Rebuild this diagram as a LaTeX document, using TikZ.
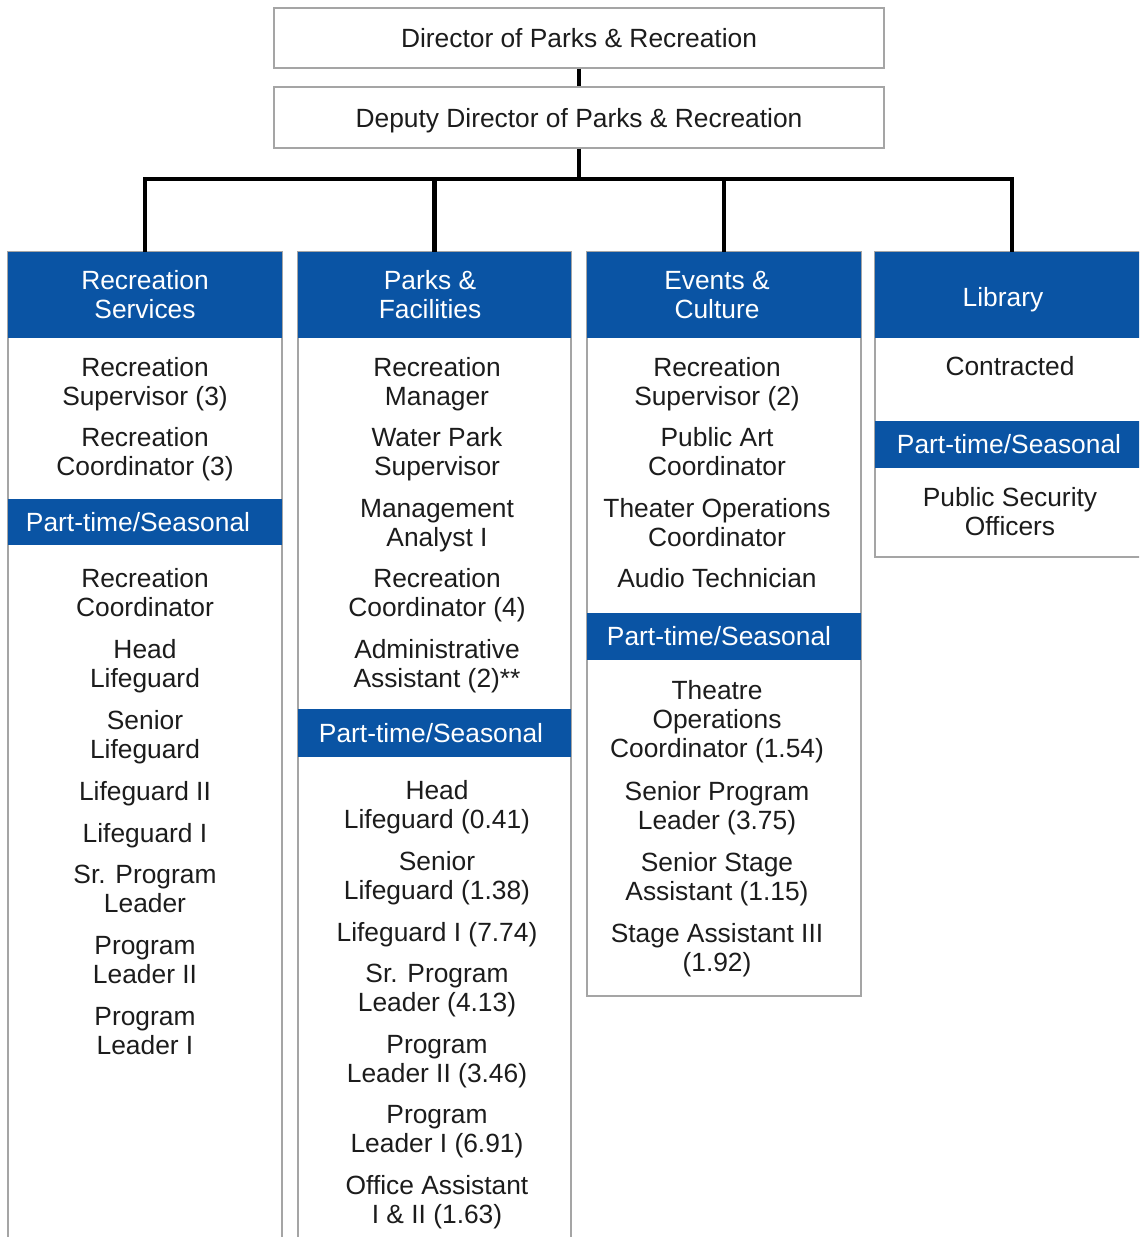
\documentclass[tikz,border=0pt]{standalone}
\usepackage{fontspec}
\setmainfont{Liberation Sans}
\definecolor{hdrblue}{RGB}{10,84,164}
\definecolor{framegray}{RGB}{165,165,165}
\definecolor{ink}{RGB}{28,28,28}

\begin{document}
\begin{tikzpicture}[x=0.02cm,y=-0.02cm,
  every node/.style={font=\fontsize{15}{16.5}\selectfont, text=ink},
  topbox/.style={draw=framegray, line width=0.8pt, fill=white, minimum width=12.2cm, inner sep=0, text depth=0pt},
  head/.style={fill=hdrblue, minimum width=5.48cm, minimum height=1.72cm, inner sep=0},
  headtext/.style={text=white, align=center, inner sep=0},
  ptbar/.style={fill=hdrblue, minimum width=5.48cm, inner sep=0},
  item/.style={align=center, inner sep=0, anchor=base},
  conn/.style={draw=black, line width=2.3pt},
  colframe/.style={draw=framegray, line width=0.8pt, fill=white}
]
\useasboundingbox (0,0) rectangle (1139,1237);
\clip (0,0) rectangle (1139,1237);
\fill[white] (0,0) rectangle (1139,1237);

% top of the hierarchy
\node[topbox, minimum height=1.2cm] (dir) at (579,38) {Director of Parks \& Recreation};
\node[topbox, minimum height=1.22cm] (dep) at (579,117.5) {Deputy Director of Parks \& Recreation};

% column outlines
\draw[colframe] (8,252) rectangle (282,1260);
\draw[colframe] (298,252) rectangle (571,1260);
\draw[colframe] (587,252) rectangle (861,996);
\draw[colframe] (875,252) rectangle (1150,557);

% division headers
\node[head, label={[headtext]center:{Recreation\\Services}}] (h1) at (145,295) {};
\node[head, label={[headtext, xshift=-0.09cm]center:{Parks \&\\Facilities}}] (h2) at (434.5,295) {};
\node[head, label={[headtext, xshift=-0.14cm]center:{Events \&\\Culture}}] (h3) at (724,295) {};
\node[head, label={[headtext, xshift=-0.18cm, yshift=-0.04cm, text depth=0pt]center:{Library}}] (h4) at (1012,295) {};

% part-time / seasonal bars
\node[ptbar, minimum height=0.92cm, label={[headtext, xshift=-0.14cm]center:{Part-time/Seasonal}}] (p1) at (145,522) {};
\node[ptbar, minimum height=0.96cm, label={[headtext, xshift=-0.07cm]center:{Part-time/Seasonal}}] (p2) at (434.5,733) {};
\node[ptbar, minimum height=0.94cm, label={[headtext, xshift=-0.1cm]center:{Part-time/Seasonal}}] (p3) at (724,636.5) {};
\node[ptbar, minimum height=0.94cm, label={[headtext, xshift=-0.06cm]center:{Part-time/Seasonal}}] (p4) at (1012,444.5) {};

% connectors
\coordinate (bus) at (579,179);
\draw[conn] (dir) -- (dep);
\draw[conn] (dep.south) -- (bus);
\draw[conn] (h1.north) |- (bus) -| (h4.north);
\draw[conn] (h2.north) -- (h2.north |- bus);
\draw[conn] (h3.north) -- (h3.north |- bus);

% items sit on the baseline of their last line
% Recreation Services
\node[item] (a1) at (145,405.5) {Recreation\\Supervisor (3)};
\node[item] (a2) at (145,475.5) {Recreation\\Coordinator (3)};
\node[item] (a3) at (145,616.5) {Recreation\\Coordinator};
\node[item] (a4) at (145,687.5) {Head\\Lifeguard};
\node[item] (a5) at (145,758.5) {Senior\\Lifeguard};
\node[item] (a6) at (145,800.5) {Lifeguard II};
\node[item] (a7) at (145,842.5) {Lifeguard I};
\node[item] (a8) at (145,912.5) {Sr. Program\\Leader};
\node[item] (a9) at (145,983.5) {Program\\Leader II};
\node[item] (a10) at (145,1054.5) {Program\\Leader I};

% Parks & Facilities
\node[item] (b1) at (437,405.5) {Recreation\\Manager};
\node[item] (b2) at (437,475.5) {Water Park\\Supervisor};
\node[item] (b3) at (437,546.5) {Management\\Analyst I};
\node[item] (b4) at (437,616.5) {Recreation\\Coordinator (4)};
\node[item] (b5) at (437,687.5) {Administrative\\Assistant (2)**};
\node[item] (b6) at (437,828.5) {Head\\Lifeguard (0.41)};
\node[item] (b7) at (437,899.5) {Senior\\Lifeguard (1.38)};
\node[item] (b8) at (437,941.5) {Lifeguard I (7.74)};
\node[item] (b9) at (437,1011.5) {Sr. Program\\Leader (4.13)};
\node[item] (b10) at (437,1082.5) {Program\\Leader II (3.46)};
\node[item] (b11) at (437,1152.5) {Program\\Leader I (6.91)};
\node[item] (b12) at (437,1223.5) {Office Assistant\\I \& II (1.63)};

% Events & Culture
\node[item] (c1) at (717,405.5) {Recreation\\Supervisor (2)};
\node[item] (c2) at (717,475.5) {Public Art\\Coordinator};
\node[item] (c3) at (717,546.5) {Theater Operations\\Coordinator};
\node[item] (c4) at (717,587.5) {Audio Technician};
\node[item] (c5) at (717,757.5) {Theatre\\Operations\\Coordinator (1.54)};
\node[item] (c6) at (717,829.5) {Senior Program\\Leader (3.75)};
\node[item] (c7) at (717,900.5) {Senior Stage\\Assistant (1.15)};
\node[item] (c8) at (717,971.5) {Stage Assistant III\\(1.92)};

% Library
\node[item] (d1) at (1010,375.5) {Contracted};
\node[item] (d2) at (1010,535.5) {Public Security\\Officers};
\end{tikzpicture}
\end{document}
